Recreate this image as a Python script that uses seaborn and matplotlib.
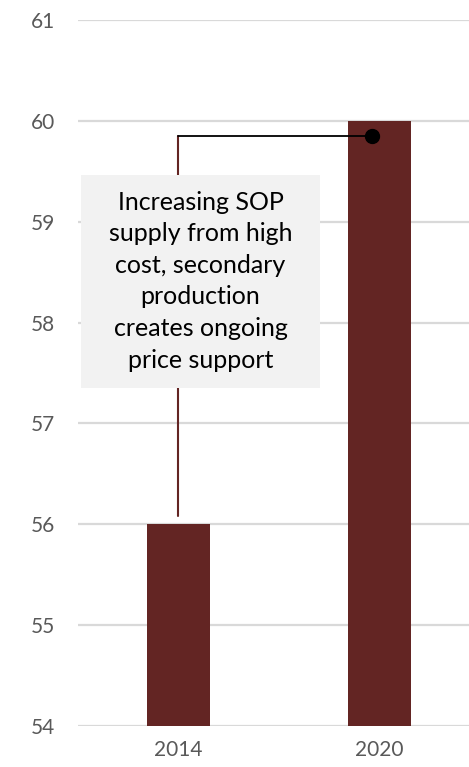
import matplotlib
matplotlib.use("Agg")
import matplotlib.pyplot as plt
import seaborn as sns
import pandas as pd
from matplotlib.patches import Rectangle

# data
years = ["2014", "2020"]
values = [56, 60]
y_ticks = [54, 55, 56, 57, 58, 59, 60, 61]
note = "Increasing SOP\nsupply from high\ncost, secondary\nproduction\ncreates ongoing\nprice support"

bar_color = "#632523"
grid_color = "#D9D9D9"
label_color = "#595959"

sns.set_theme(style="white")
plt.rcParams['font.family'] = ['Lato', 'DejaVu Sans']

df = pd.DataFrame({"year": years, "value": values})

fig = plt.figure(figsize=(4.69, 7.67), dpi=100)
ax = fig.add_axes([0.166, 0.0535, 0.834, 0.9205])

sns.barplot(data=df, x="year", y="value", color=bar_color, saturation=1,
            width=0.313, linewidth=0, ax=ax, zorder=3)

ax.set_ylim(54, 61)
ax.set_xlim(-0.5, 1.445)
ax.set_yticks(y_ticks)
ax.yaxis.grid(True, color=grid_color, linewidth=1.6, zorder=0)
ax.set_axisbelow(True)
for s in ax.spines.values():
    s.set_visible(False)
ax.tick_params(axis='both', length=0, labelsize=15, labelcolor=label_color)
ax.tick_params(axis='y', pad=16.5)
ax.tick_params(axis='x', pad=10)
ax.set_xlabel("")
ax.set_ylabel("")

# callout connector
y_link = 59.85
ax.plot([0, 0], [values[0] + 0.08, y_link], color=bar_color, lw=1.5, zorder=4)
ax.plot([0, 0.963], [y_link, y_link], color="black", lw=1.3, zorder=4)
ax.plot([0.963], [y_link], marker="o", markersize=10, color="black", zorder=5)

# text box
ax.add_patch(Rectangle((-0.485, 57.354), 1.189, 2.111, facecolor="#F2F2F2",
                       edgecolor="none", zorder=6))
ax.text(0.11, 58.41, note, ha="center", va="center", fontsize=18,
        linespacing=1.45, color="black", zorder=7)

fig.savefig("out.png", dpi=100)
